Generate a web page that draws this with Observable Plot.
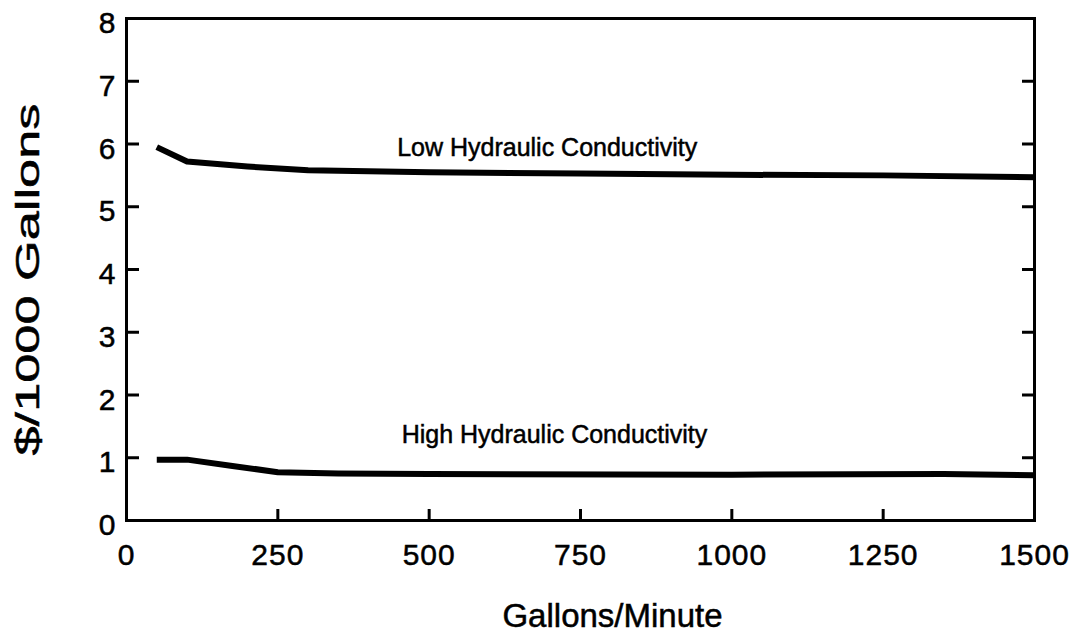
<!DOCTYPE html>
<html><head><meta charset="utf-8">
<script src="https://cdn.jsdelivr.net/npm/d3@7"></script>
<script src="https://cdn.jsdelivr.net/npm/@observablehq/plot@0.6"></script>
<style>body{margin:0;background:#fff} svg{display:block} svg text{stroke:#000;stroke-width:0.5px}</style>
</head><body><div id="chart"></div>
<script>
// Series: Low hydraulic conductivity
const lowFlow = [50, 100, 200, 300, 500, 750, 1000, 1250, 1500];
const lowCost = [5.95, 5.72, 5.64, 5.58, 5.55, 5.53, 5.51, 5.50, 5.47];
// Series: High hydraulic conductivity
const highFlow = [50, 100, 175, 250, 350, 500, 1000, 1350, 1500];
const highCost = [0.97, 0.97, 0.87, 0.77, 0.75, 0.74, 0.73, 0.74, 0.72];
// Curve labels
const labelText = ["Low Hydraulic Conductivity", "High Hydraulic Conductivity"];
const labelFlow = [695, 707];
const labelCost = [5.93, 1.37];
// Ticks
const xTicks = [0, 250, 500, 750, 1000, 1250, 1500];
const xInnerTicks = [250, 500, 750, 1000, 1250];
const yTicks = [0, 1, 2, 3, 4, 5, 6, 7, 8];
const yInnerTicks = [1, 2, 3, 4, 5, 6, 7];
const xTitle = "Gallons/Minute";
const yTitle = "$/1000 Gallons";

const lowData = lowFlow.map((f, i) => ({flow: f, cost: lowCost[i]}));
const highData = highFlow.map((f, i) => ({flow: f, cost: highCost[i]}));
const labels = labelText.map((t, i) => ({text: t, flow: labelFlow[i], cost: labelCost[i]}));

const svg = Plot.plot({
  width: 1076, height: 634,
  marginLeft: 126, marginRight: 42, marginTop: 18, marginBottom: 114,
  style: {fontFamily: "'Liberation Sans', Arial, Helvetica, sans-serif", background: "#fff", color: "#000"},
  x: {domain: [0, 1500]},
  y: {domain: [0, 8]},
  marks: [
    Plot.line(lowData, {x: "flow", y: "cost", stroke: "#000", strokeWidth: 6, strokeLinecap: "butt"}),
    Plot.line(highData, {x: "flow", y: "cost", stroke: "#000", strokeWidth: 6, strokeLinecap: "butt"}),
    Plot.text(labels, {x: "flow", y: "cost", text: "text", fontSize: 25, lineAnchor: "middle", fill: "#000"}),
    Plot.frame({stroke: "#000", strokeWidth: 3}),
    Plot.axisX(xTicks, {anchor: "bottom", tickSize: 0, tickPadding: 23, fontSize: 30, label: null, tickFormat: d => String(d), className: "xlab"}),
    Plot.axisX(xInnerTicks, {anchor: "top", frameAnchor: "bottom", tickSize: 12, strokeWidth: 3, fill: "none", label: null}),
    Plot.axisY(yTicks, {anchor: "left", tickSize: 0, tickPadding: 11, dy: 5, fontSize: 30, label: null, tickFormat: d => String(d)}),
    Plot.axisY(yInnerTicks, {anchor: "right", frameAnchor: "left", tickSize: 12, strokeWidth: 3, fill: "none", label: null}),
    Plot.axisY(yInnerTicks, {anchor: "left", frameAnchor: "right", tickSize: 12, strokeWidth: 3, fill: "none", label: null}),
    Plot.text([xTitle], {frameAnchor: "bottom", dx: 32, dy: 96, fontSize: 33, lineAnchor: "middle", fill: "#000"}),
    Plot.text([yTitle], {frameAnchor: "left", rotate: -90, dx: -98, dy: 186, fontSize: 34, textAnchor: "start", lineAnchor: "middle", fill: "#000", className: "ytitle"})
  ]
});
document.getElementById("chart").appendChild(svg);
d3.select(svg).selectAll(".ytitle text").attr("textLength", 352).attr("lengthAdjust", "spacingAndGlyphs");
d3.select(svg).selectAll(".xlab text").style("letter-spacing", "1px");
</script>
</body></html>
